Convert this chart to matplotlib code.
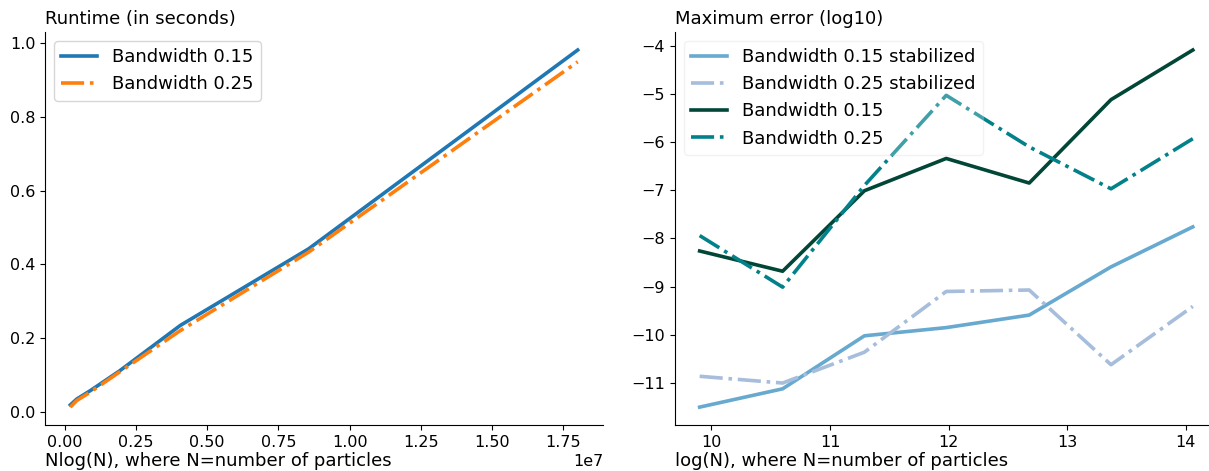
import matplotlib
matplotlib.use('Agg')
import matplotlib.pyplot as plt

# x values: N = 20000 * 2^k particles
nlogn = [1.98e5, 4.24e5, 9.03e5, 1.917e6, 4.058e6, 8.559e6, 1.80e7]
log_n = [9.90, 10.60, 11.29, 11.98, 12.68, 13.37, 14.06]

# runtime (seconds)
runtime_015 = [0.018, 0.034, 0.057, 0.110, 0.234, 0.442, 0.982]
runtime_025 = [0.012, 0.030, 0.053, 0.107, 0.220, 0.433, 0.950]

# max error (log10)
err_015_stab = [-11.50, -11.12, -10.02, -9.85, -9.59, -8.59, -7.76]
err_025_stab = [-10.86, -11.00, -10.36, -9.10, -9.07, -10.62, -9.41]
err_015 = [-8.26, -8.68, -7.01, -6.34, -6.85, -5.12, -4.09]
err_025 = [-7.94, -9.01, -6.90, -5.03, -6.10, -6.97, -5.93]

LW = 2.6
FS = 13

fig = plt.figure(figsize=(12.09, 4.71), dpi=100)
ax1 = fig.add_axes([0.0372, 0.0977, 0.4616, 0.834])
ax2 = fig.add_axes([0.5583, 0.0977, 0.4487, 0.834])

ax1.plot(nlogn, runtime_015, color='#1f77b4', lw=LW, label='Bandwidth 0.15')
ax1.plot(nlogn, runtime_025, color='#ff7f0e', lw=LW, ls='-.', label='Bandwidth 0.25')
ax1.set_title('Runtime (in seconds)', loc='left', fontsize=FS)
ax1.set_xlabel('Nlog(N), where N=number of particles', loc='left', fontsize=FS, labelpad=2)
ax1.legend(loc='upper left', fontsize=FS)

ax2.plot(log_n, err_015_stab, color='#67a9cf', lw=LW, label='Bandwidth 0.15 stabilized')
ax2.plot(log_n, err_025_stab, color='#a6bddb', lw=LW, ls='-.', label='Bandwidth 0.25 stabilized')
ax2.plot(log_n, err_015, color='#014636', lw=LW, label='Bandwidth 0.15')
ax2.plot(log_n, err_025, color='#02818a', lw=LW, ls='-.', label='Bandwidth 0.25')
ax2.set_title('Maximum error (log10)', loc='left', fontsize=FS)
ax2.set_xlabel('log(N), where N=number of particles', loc='left', fontsize=FS, labelpad=2)
ax2.legend(loc='upper left', fontsize=FS, framealpha=0.25)

for ax in (ax1, ax2):
    ax.spines['top'].set_visible(False)
    ax.spines['right'].set_visible(False)
    ax.tick_params(labelsize=11.5)
ax1.xaxis.get_offset_text().set_fontsize(11.5)

fig.patch.set_facecolor('white')
fig.savefig('out.png', dpi=100)
